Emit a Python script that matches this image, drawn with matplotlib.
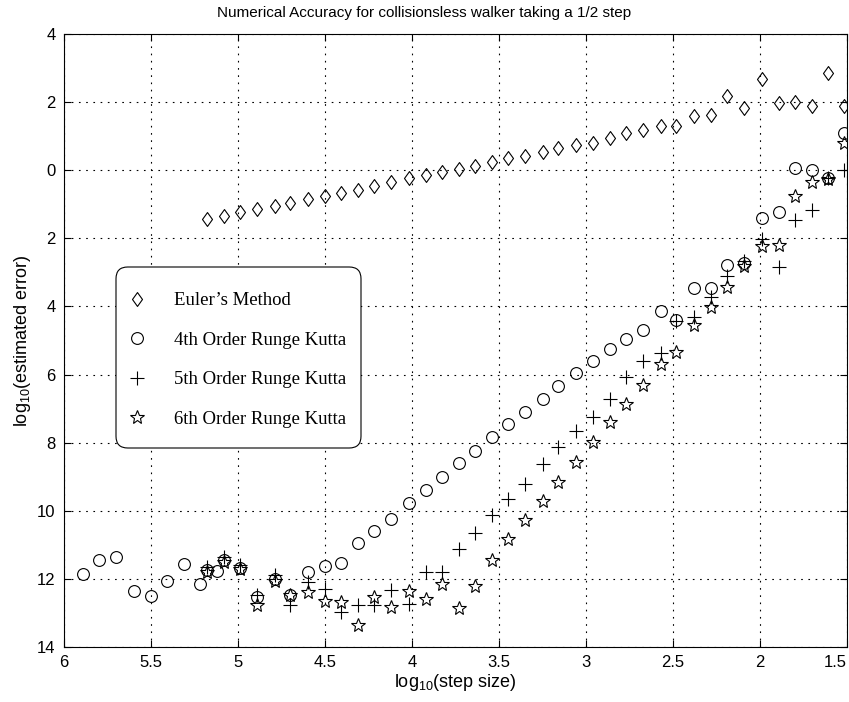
import matplotlib
matplotlib.use("Agg")
import matplotlib.pyplot as plt
from matplotlib.path import Path
from matplotlib.patches import FancyBboxPatch

plt.rcParams['font.family'] = ['Liberation Sans', 'DejaVu Sans']
plt.rcParams['mathtext.default'] = 'regular'

# log10(step size), common grid used by all four methods
log_step = [-5.18, -5.08, -4.99, -4.89, -4.79, -4.70, -4.60, -4.50, -4.41, -4.31,
            -4.22, -4.12, -4.02, -3.92, -3.83, -3.73, -3.64, -3.54, -3.45, -3.35,
            -3.25, -3.16, -3.06, -2.96, -2.86, -2.77, -2.67, -2.57, -2.48, -2.38,
            -2.28, -2.19, -2.09, -1.99, -1.89, -1.80, -1.70, -1.61, -1.52]

# log10(estimated error)
euler_err = [-1.44, -1.33, -1.24, -1.14, -1.05, -0.97, -0.85, -0.76, -0.66, -0.57,
             -0.46, -0.36, -0.24, -0.14, -0.06, 0.04, 0.13, 0.23, 0.35, 0.41,
             0.54, 0.64, 0.74, 0.80, 0.94, 1.09, 1.17, 1.29, 1.29, 1.60,
             1.62, 2.17, 1.84, 2.68, 1.96, 1.99, 1.90, 2.86, 1.88]

rk4_err = [-11.75, -11.46, -11.68, -12.54, -11.99, -12.46, -11.80, -11.62, -11.54, -10.94,
           -10.59, -10.25, -9.77, -9.40, -9.01, -8.61, -8.24, -7.83, -7.46, -7.09,
           -6.72, -6.34, -5.96, -5.59, -5.25, -4.96, -4.69, -4.12, -4.40, -3.46,
           -3.46, -2.78, -2.71, -1.41, -1.23, 0.06, 0.00, -0.23, 1.09]

# extra 4th order runs at smaller steps
rk4_extra_step = [-5.89, -5.80, -5.70, -5.60, -5.50, -5.41, -5.31, -5.22, -5.12]
rk4_extra_err = [-11.87, -11.44, -11.37, -12.36, -12.49, -12.05, -11.56, -12.14, -11.78]

rk5_err = [-11.65, -11.36, -11.58, -12.46, -11.88, -12.78, -12.09, -12.29, -12.96, -12.78,
           -12.78, -12.34, -12.73, -11.80, -11.80, -11.13, -10.64, -10.12, -9.65, -9.20,
           -8.63, -8.14, -7.65, -7.24, -6.71, -6.08, -5.59, -5.38, -4.43, -4.30,
           -3.73, -3.12, -2.68, -2.01, -2.85, -1.46, -1.16, -0.23, 0.01]

rk6_err = [-11.80, -11.50, -11.70, -12.78, -12.07, -12.46, -12.39, -12.65, -12.68, -13.34,
           -12.54, -12.83, -12.36, -12.60, -12.14, -12.85, -12.22, -11.44, -10.84, -10.28,
           -9.71, -9.15, -8.56, -7.98, -7.40, -6.87, -6.32, -5.69, -5.33, -4.54,
           -4.02, -3.44, -2.81, -2.22, -2.21, -0.75, -0.36, -0.25, 0.80]

labels = ["Euler\u2019s Method", "4th Order Runge Kutta",
          "5th Order Runge Kutta", "6th Order Runge Kutta"]

# tick positions and the labels as printed (the scan shows magnitudes only)
x_ticks = [-6, -5.5, -5, -4.5, -4, -3.5, -3, -2.5, -2, -1.5]
x_tick_labels = ['6', '5.5', '5', '4.5', '4', '3.5', '3', '2.5', '2', '1.5']
y_ticks = [-14, -12, -10, -8, -6, -4, -2, 0, 2, 4]
y_tick_labels = ['14', '12', '10', '8', '6', '4', '2', '0', '2', '4']

# matlab style diamond (a bit taller than wide)
diamond = Path([(0, 1), (0.72, 0), (0, -1), (-0.72, 0), (0, 1)],
               [Path.MOVETO, Path.LINETO, Path.LINETO, Path.LINETO, Path.CLOSEPOLY])

fig = plt.figure(figsize=(8.49, 7.02), dpi=100)
ax = fig.add_axes([64 / 849, 1 - 647 / 702, 783 / 849, 613 / 702])

kw = dict(linestyle='none', color='black', mfc='none', mew=0.8)
ax.plot(log_step, euler_err, marker=diamond, ms=10, label=labels[0], **kw)
ax.plot(rk4_extra_step + log_step, rk4_extra_err + rk4_err, marker='o', ms=8.5,
        label=labels[1], **kw)
ax.plot(log_step, rk5_err, marker='+', ms=9.5, label=labels[2], **kw)
ax.plot(log_step, rk6_err, marker='*', ms=10, label=labels[3], **kw)

ax.set_xlim(-6, -1.5)
ax.set_ylim(-14, 4)
ax.set_xticks(x_ticks, x_tick_labels)
ax.set_yticks(y_ticks, y_tick_labels)
ax.get_xticklabels()[-1].set_horizontalalignment('right')
ax.tick_params(direction='in', length=5, width=0.8, top=True, right=True, labelsize=12)
ax.tick_params(axis='x', pad=6)
ax.tick_params(axis='y', pad=6)
ax.grid(True, color='black', linestyle=(0, (1.5, 5)), linewidth=0.8)
for s in ax.spines.values():
    s.set_linewidth(0.8)

ax.set_xlabel('log$_{10}$(step size)', fontsize=13, labelpad=1)
ax.set_ylabel('log$_{10}$(estimated error)', fontsize=13, labelpad=3)
fig.text(0.5, 1 - 13 / 702, 'Numerical Accuracy for collisionsless walker taking a 1/2 step',
         ha='center', va='center', fontsize=11)

# legend box with rounded corners
box = FancyBboxPatch(((116 - 64) / 783, 1 - (448 - 34) / 613), (361 - 116) / 783, (448 - 267) / 613,
                     boxstyle='round,pad=0,rounding_size=0.015', mutation_aspect=783 / 613,
                     transform=ax.transAxes, fc='white', ec='black', lw=0.8, zorder=4)
ax.add_patch(box)
leg = ax.legend(loc='upper left', bbox_to_anchor=((128 - 64) / 783, 1 - (292 - 34) / 613),
                frameon=False, borderpad=0, borderaxespad=0, handlelength=1.0,
                handletextpad=1.45, labelspacing=1.2, numpoints=1,
                prop={'family': 'Liberation Serif', 'size': 13.5})
leg.set_zorder(5)

fig.savefig('out.png', dpi=100)
